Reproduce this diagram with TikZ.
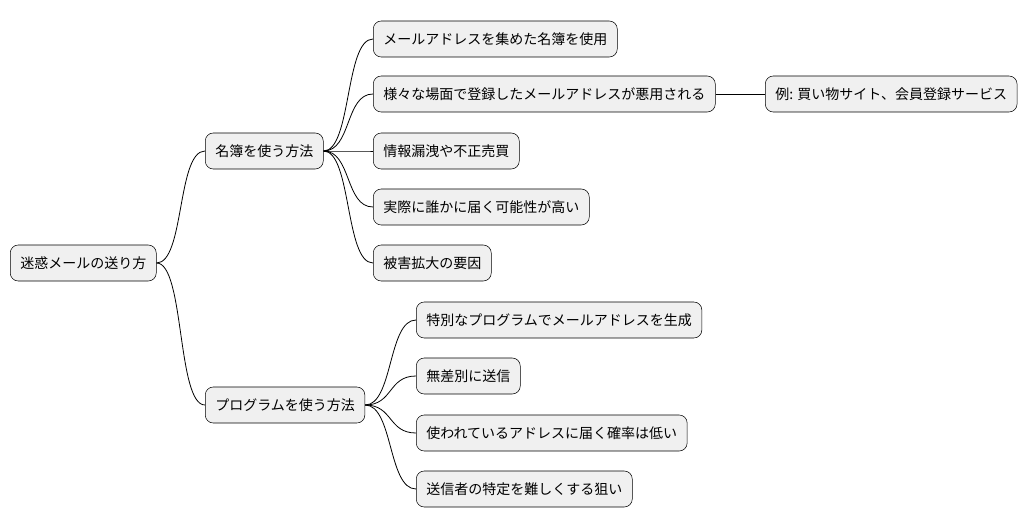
\documentclass[tikz,border=0pt]{standalone}
\usepackage{fontspec}
\setmainfont{Noto Sans CJK JP}
\usetikzlibrary{positioning}

\begin{document}
\begin{tikzpicture}[x=0.75pt, y=-0.75pt,
    every node/.style={draw, rounded corners=6pt, fill=black!6, anchor=west,
      minimum height=27pt, inner xsep=7.5pt, font=\fontsize{10.5}{12}\selectfont},
    edge/.style={black, line width=0.6pt}]
  \useasboundingbox (0,0) rectangle (1030,527);
  % Nodos
  \node (root) at (10,263) {迷惑メールの送り方};
  \node (list) at (205,151) {名簿を使う方法};
  \node (prog) at (205,405) {プログラムを使う方法};
  \node (l1) at (373,39) {メールアドレスを集めた名簿を使用};
  \node (l2) at (373,94) {様々な場面で登録したメールアドレスが悪用される};
  \node (ex) at (765,94) {例: 買い物サイト、会員登録サービス};
  \node (l3) at (373,151) {情報漏洩や不正売買};
  \node (l4) at (373,207) {実際に誰かに届く可能性が高い};
  \node (l5) at (373,263) {被害拡大の要因};
  \node (p1) at (416,320) {特別なプログラムでメールアドレスを生成};
  \node (p2) at (416,376) {無差別に送信};
  \node (p3) at (416,433) {使われているアドレスに届く確率は低い};
  \node (p4) at (416,489) {送信者の特定を難しくする狙い};

  % Aristas
  \foreach \a/\b in {root/list, root/prog, list/l1, list/l2, list/l3, list/l4, list/l5,
                     prog/p1, prog/p2, prog/p3, prog/p4}
    \draw[edge] (\a.east) .. controls +(28,0) and +(-28,0) .. (\b.west);
  \draw[edge] (l2) -- (ex);
\end{tikzpicture}
\end{document}
